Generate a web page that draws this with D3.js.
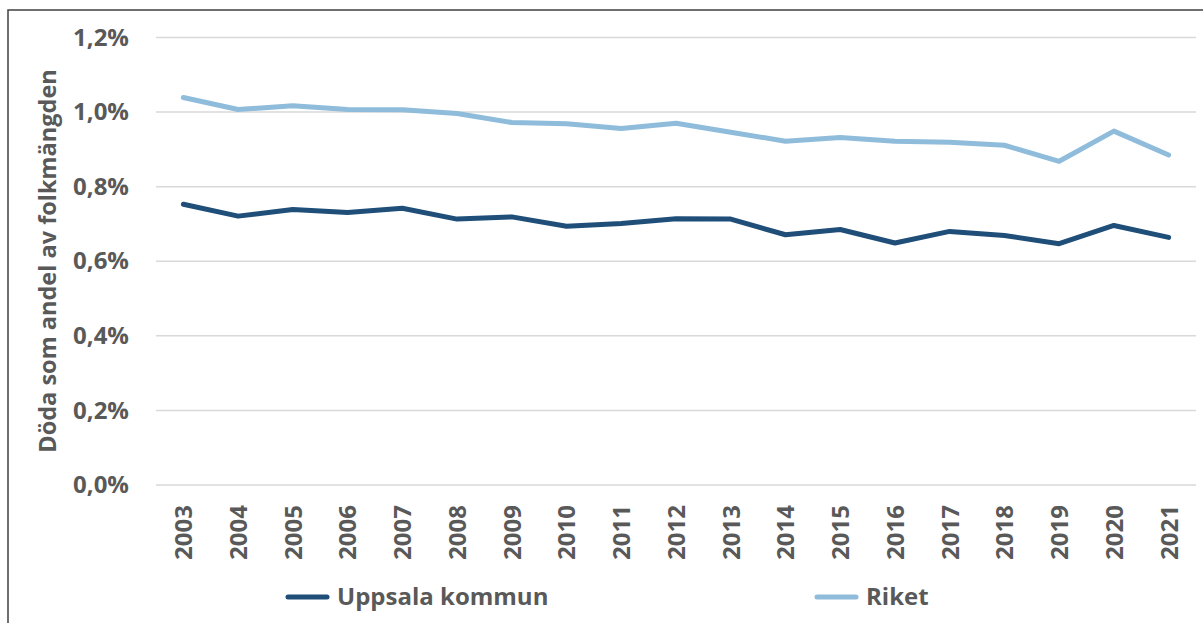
<!DOCTYPE html>
<html>
<head>
<meta charset="utf-8">
<script src="https://cdn.jsdelivr.net/npm/d3@7"></script>
<style>
  body { margin: 0; background: #fff; overflow: hidden; }
  svg { display: block; }
  text { font-family: "Open Sans", sans-serif; font-weight: bold; fill: #595959; }
</style>
</head>
<body>
<svg></svg>
<script>
let width = 1203;
let height = 623;

let years = ["2003","2004","2005","2006","2007","2008","2009","2010","2011","2012",
             "2013","2014","2015","2016","2017","2018","2019","2020","2021"];
let uppsala = [0.753,0.721,0.739,0.731,0.742,0.713,0.719,0.694,0.701,0.714,
               0.713,0.671,0.685,0.649,0.680,0.669,0.647,0.696,0.664];
let riket = [1.039,1.007,1.017,1.007,1.006,0.996,0.972,0.969,0.956,0.970,
             0.946,0.922,0.932,0.922,0.919,0.911,0.868,0.949,0.885];
let yTicks = [0, 0.2, 0.4, 0.6, 0.8, 1.0, 1.2];
let seriesNames = ["Uppsala kommun", "Riket"];
let seriesColors = ["#1f4e79", "#8fbcdb"];

let svg = d3.select('svg').attr('width', width).attr('height', height);

// outer frame (only top and left edges are visible in the picture)
svg.append('path')
    .attr('d', 'M8,' + height + 'V10H' + width)
    .attr('fill', 'none')
    .attr('stroke', '#404040')
    .attr('stroke-width', 1.5);

let xScale = d3.scalePoint().domain(years).range([156, 1196]).padding(0.5);
let yScale = d3.scaleLinear().domain([0, 1.2]).range([485, 37.5]);

// gridlines
svg.append('g')
    .selectAll('line')
    .data(yTicks)
    .join('line')
    .attr('x1', 156).attr('x2', 1196)
    .attr('y1', d => yScale(d)).attr('y2', d => yScale(d))
    .attr('stroke', '#d9d9d9')
    .attr('stroke-width', 1.5);

// y axis
let yAxis = d3.axisLeft(yScale).tickValues(yTicks)
    .tickFormat(d => d3.format('.1f')(d).replace('.', ',') + '%')
    .tickSize(0).tickPadding(0);
let yg = svg.append('g')
    .attr('transform', 'translate(129,0)')
    .call(yAxis);
yg.select('.domain').remove();
yg.selectAll('text')
    .attr('font-size', 24)
    .attr('fill', '#595959')
    .attr('font-family', '"Open Sans", sans-serif')
    .attr('font-weight', 'bold');

// x axis
let xAxis = d3.axisBottom(xScale).tickSize(0).tickPadding(0);
let xg = svg.append('g')
    .attr('transform', 'translate(0,505)')
    .call(xAxis);
xg.select('.domain').remove();
xg.selectAll('text')
    .attr('font-size', 24)
    .attr('fill', '#595959')
    .attr('font-family', '"Open Sans", sans-serif')
    .attr('font-weight', 'bold')
    .attr('transform', 'rotate(-90)')
    .attr('text-anchor', 'end')
    .attr('dy', '0.35em')
    .attr('x', 0).attr('y', 0);

// y title
svg.append('text')
    .attr('transform', 'translate(56,261) rotate(-90)')
    .attr('text-anchor', 'middle')
    .attr('font-size', 23.5)
    .text('Döda som andel av folkmängden');

// lines
let line = d3.line()
    .x((d, i) => xScale(years[i]))
    .y(d => yScale(d));

[uppsala, riket].forEach((vals, k) => {
    svg.append('path')
        .datum(vals)
        .attr('d', line)
        .attr('fill', 'none')
        .attr('stroke', seriesColors[k])
        .attr('stroke-width', 5)
        .attr('stroke-linejoin', 'round')
        .attr('stroke-linecap', 'round');
});

// legend
let legendX = [288, 817];
seriesNames.forEach((name, k) => {
    let g = svg.append('g').attr('transform', 'translate(' + legendX[k] + ',597)');
    g.append('line')
        .attr('x1', 0).attr('x2', 39)
        .attr('stroke', seriesColors[k])
        .attr('stroke-width', 5)
        .attr('stroke-linecap', 'round');
    g.append('text')
        .attr('x', 49).attr('dy', '0.35em')
        .attr('font-size', 24)
        .text(name);
});
</script>
</body>
</html>
